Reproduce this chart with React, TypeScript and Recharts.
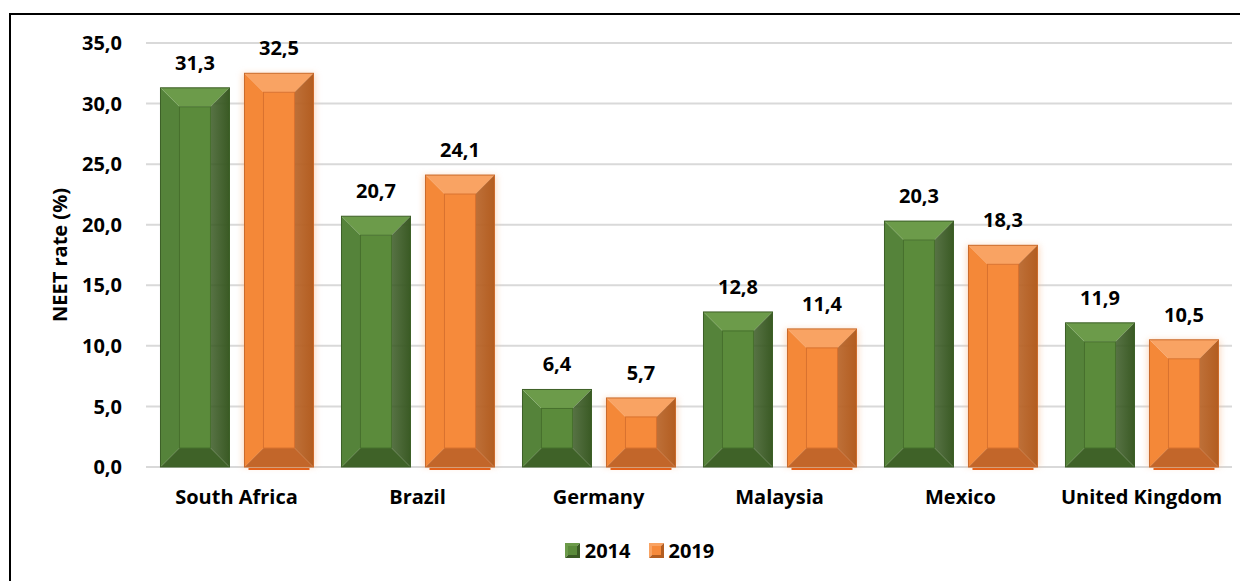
import React from "react";
import {
  BarChart,
  Bar,
  XAxis,
  YAxis,
  CartesianGrid,
  Legend,
  LabelList,
} from "recharts";

const countries = [
  "South Africa",
  "Brazil",
  "Germany",
  "Malaysia",
  "Mexico",
  "United Kingdom",
];
const rate2014 = [31.3, 20.7, 6.4, 12.8, 20.3, 11.9];
const rate2019 = [32.5, 24.1, 5.7, 11.4, 18.3, 10.5];
const yTicks = [0, 5, 10, 15, 20, 25, 30, 35];

const data = countries.map((c, i) => ({
  country: c,
  y2014: rate2014[i],
  y2019: rate2019[i],
}));

const FONT = "'Open Sans', sans-serif";
const comma = (v: number) => v.toFixed(1).replace(".", ",");
const textStyle = { fill: "#000", fontFamily: FONT, fontWeight: 700, fontSize: 20 };

const palettes: Record<string, any> = {
  green: {
    face: "#5b8b3b",
    left: "#55833a",
    top: "#6c9b4a",
    right: "#3a5a24",
    bottom: "#3f6228",
    line: "#46702c",
    edge: "#3c5e26",
  },
  orange: {
    face: "#f68a3b",
    left: "#f48838",
    top: "#f9a363",
    right: "#b35d20",
    bottom: "#c2662a",
    line: "#d9722e",
    edge: "#c96a2a",
  },
};

const BevelBar = (props: any) => {
  const { x, y, width: w, height: h, tone } = props;
  if (!h || h <= 0) return null;
  const p = palettes[tone];
  const b = Math.min(19, h / 2, w / 2);
  const r = x + w;
  const btm = y + h;
  return (
    <g>
      {tone === "orange" && (
        <>
          <rect
            x={x - 2}
            y={y}
            width={w + 4}
            height={h}
            fill="#f7b98a"
            opacity={0.5}
            filter="url(#glow)"
          />
          <rect x={x + 4} y={btm + 1} width={w - 8} height={2} fill="#e2621b" />
        </>
      )}
      <polygon points={`${x},${y} ${x + b},${y + b} ${x + b},${btm - b} ${x},${btm}`} fill={p.left} />
      <polygon points={`${x},${y} ${r},${y} ${r - b},${y + b} ${x + b},${y + b}`} fill={p.top} />
      <polygon
        points={`${r},${y} ${r},${btm} ${r - b},${btm - b} ${r - b},${y + b}`}
        fill={`url(#right-${tone})`}
      />
      <polygon points={`${x},${btm} ${x + b},${btm - b} ${r - b},${btm - b} ${r},${btm}`} fill={p.bottom} />
      <rect
        x={x + b}
        y={y + b}
        width={Math.max(0, w - 2 * b)}
        height={Math.max(0, h - 2 * b)}
        fill={p.face}
        stroke={p.line}
        strokeWidth={1}
      />
      <rect x={x} y={y} width={w} height={h} fill="none" stroke={p.edge} strokeWidth={1} />
    </g>
  );
};

const LegendIcon = ({ tone }: { tone: string }) => {
  const p = palettes[tone];
  return (
    <svg width={15} height={15} style={{ display: "block" }}>
      <polygon points="0,0 15,0 0,15" fill={p.top} />
      <polygon points="15,0 15,15 0,15" fill={p.right} />
      <rect x={3} y={3} width={9} height={9} fill={p.face} />
    </svg>
  );
};

const renderLegend = () => (
  <div
    style={{
      display: "flex",
      justifyContent: "center",
      alignItems: "center",
      gap: 18,
      fontFamily: FONT,
      fontWeight: 700,
      fontSize: 20,
      color: "#000",
      paddingLeft: 39,
    }}
  >
    {[
      ["green", "2014"],
      ["orange", "2019"],
    ].map(([tone, label]) => (
      <div key={label} style={{ display: "flex", alignItems: "center", gap: 5 }}>
        <LegendIcon tone={tone} />
        <span>{label}</span>
      </div>
    ))}
  </div>
);

export default function App() {
  return (
    <div style={{ position: "relative", width: 1240, height: 573, overflow: "hidden" }}>
      <div
        style={{
          position: "absolute",
          left: 1,
          top: 5,
          width: 1400,
          height: 800,
          border: "2px solid #000",
          boxSizing: "border-box",
        }}
      />
      <div style={{ position: "absolute", left: 0, top: 0 }}>
        <BarChart
          width={1240}
          height={573}
          data={data}
          margin={{ top: 35, right: 16, left: 0, bottom: 47 }}
          barCategoryGap="8%"
          barGap={15}
        >
          <defs>
            <filter id="glow" x="-20%" y="-20%" width="140%" height="140%">
              <feGaussianBlur stdDeviation="3" />
            </filter>
            {["green", "orange"].map((t) => (
              <linearGradient key={t} id={`right-${t}`} x1="0" y1="0" x2="1" y2="0">
                <stop offset="0%" stopColor={palettes[t].right} stopOpacity={0.85} />
                <stop offset="100%" stopColor={palettes[t].right} />
              </linearGradient>
            ))}
          </defs>
          <CartesianGrid vertical={false} stroke="#d9d9d9" strokeWidth={2} />
          <XAxis
            dataKey="country"
            axisLine={false}
            tickLine={false}
            tickSize={0}
            tickMargin={23}
            height={40}
            tick={textStyle}
          />
          <YAxis
            domain={[0, 35]}
            ticks={yTicks}
            tickFormatter={comma}
            axisLine={false}
            tickLine={false}
            tickSize={0}
            tickMargin={24}
            width={138}
            tick={textStyle}
            label={{
              value: "NEET rate (%)",
              angle: -90,
              position: "insideLeft",
              offset: 52,
              style: { ...textStyle, textAnchor: "middle" },
            }}
          />
          <Legend verticalAlign="bottom" content={renderLegend} wrapperStyle={{ top: 529 }} />
          <Bar
            dataKey="y2014"
            name="2014"
            isAnimationActive={false}
            shape={(p: any) => <BevelBar {...p} tone="green" />}
          >
            <LabelList
              dataKey="y2014"
              position="top"
              offset={18}
              formatter={(v: any) => comma(Number(v))}
              style={textStyle}
            />
          </Bar>
          <Bar
            dataKey="y2019"
            name="2019"
            isAnimationActive={false}
            shape={(p: any) => <BevelBar {...p} tone="orange" />}
          >
            <LabelList
              dataKey="y2019"
              position="top"
              offset={18}
              formatter={(v: any) => comma(Number(v))}
              style={textStyle}
            />
          </Bar>
        </BarChart>
      </div>
    </div>
  );
}
